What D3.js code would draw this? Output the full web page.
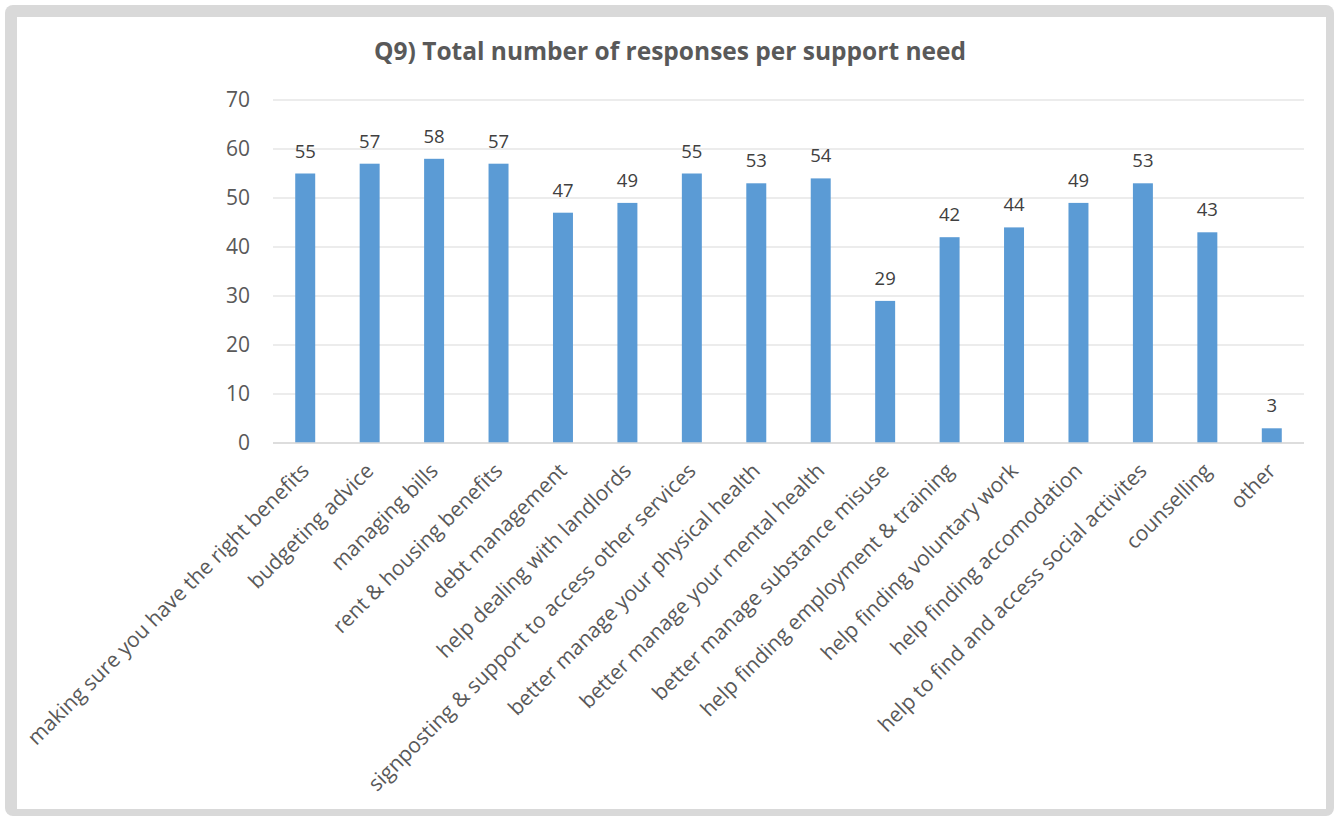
<!DOCTYPE html>
<html>
<head>
<meta charset="utf-8">
<script src="https://cdn.jsdelivr.net/npm/d3@7"></script>
<style>
  body { margin: 0; background: #fff; }
  text { font-family: "Open Sans", "Noto Sans", sans-serif; }
</style>
</head>
<body>
<div id="chart"></div>
<script>
const categories = [
    'making sure you have the right benefits',
    'budgeting advice',
    'managing bills',
    'rent & housing benefits',
    'debt management',
    'help dealing with landlords',
    'signposting & support to access other services',
    'better manage your physical health',
    'better manage your mental health',
    'better manage substance misuse',
    'help finding employment & training',
    'help finding voluntary work',
    'help finding accomodation',
    'help to find and access social activites',
    'counselling',
    'other'
];
const responses = [55, 57, 58, 57, 47, 49, 55, 53, 54, 29, 42, 44, 49, 53, 43, 3];
const yTicks = [0, 10, 20, 30, 40, 50, 60, 70];
const title = 'Q9) Total number of responses per support need';

const width = 1334;
const height = 816;

const svg = d3.select('#chart')
    .append('svg')
        .attr('width', width)
        .attr('height', height);

// frame
svg.append('rect')
    .attr('x', 5).attr('y', 5)
    .attr('width', width - 5).attr('height', height - 5)
    .attr('rx', 8)
    .attr('fill', '#d9d9d9');
svg.append('rect')
    .attr('x', 17).attr('y', 17)
    .attr('width', 1309).attr('height', 792)
    .attr('fill', '#fff');

svg.append('text')
    .attr('x', 670)
    .attr('y', 60)
    .attr('text-anchor', 'middle')
    .attr('font-size', 24.5)
    .attr('font-weight', 'bold')
    .attr('fill', '#595959')
    .text(title);

const x = d3.scaleBand()
    .domain(categories)
    .range([273, 1304])
    .paddingInner(0.69)
    .paddingOuter(0.345);

const y = d3.scaleLinear()
    .domain([0, 70])
    .range([443, 100]);

// gridlines
svg.append('g')
    .selectAll('line')
    .data(yTicks)
    .enter()
    .append('line')
        .attr('x1', 273).attr('x2', 1304)
        .attr('y1', d => y(d)).attr('y2', d => y(d))
        .attr('stroke', '#d9d9d9')
        .attr('stroke-width', 1);

// y axis labels
const yAxis = svg.append('g')
    .attr('transform', 'translate(273,0)')
    .call(d3.axisLeft(y).tickValues(yTicks).tickSize(0).tickPadding(23));
yAxis.select('.domain').remove();
yAxis.selectAll('text')
    .attr('font-size', 21)
    .attr('fill', '#595959')
    .style('font-family', '"Open Sans", sans-serif');

// bars
svg.append('g')
    .selectAll('rect')
    .data(responses)
    .enter()
    .append('rect')
        .attr('x', (d, i) => x(categories[i]))
        .attr('y', d => y(d))
        .attr('width', x.bandwidth())
        .attr('height', d => y(0) - y(d))
        .attr('fill', '#5b9bd5');

// value labels
svg.append('g')
    .selectAll('text')
    .data(responses)
    .enter()
    .append('text')
        .attr('x', (d, i) => x(categories[i]) + x.bandwidth() / 2)
        .attr('y', d => y(d) - 16)
        .attr('text-anchor', 'middle')
        .attr('font-size', 18.5)
        .attr('fill', '#404040')
        .text(d => d);

// x axis line
svg.append('line')
    .attr('x1', 273).attr('x2', 1304)
    .attr('y1', y(0)).attr('y2', y(0))
    .attr('stroke', '#d9d9d9')
    .attr('stroke-width', 1.5);

// category labels
svg.append('g')
    .selectAll('text')
    .data(categories)
    .enter()
    .append('text')
        .attr('transform', d => `translate(${x(d) + x.bandwidth() / 2},${y(0) + 24}) rotate(-45)`)
        .attr('text-anchor', 'end')
        .attr('dy', '0.35em')
        .attr('font-size', 21)
        .attr('fill', '#595959')
        .text(d => d);
</script>
</body>
</html>
